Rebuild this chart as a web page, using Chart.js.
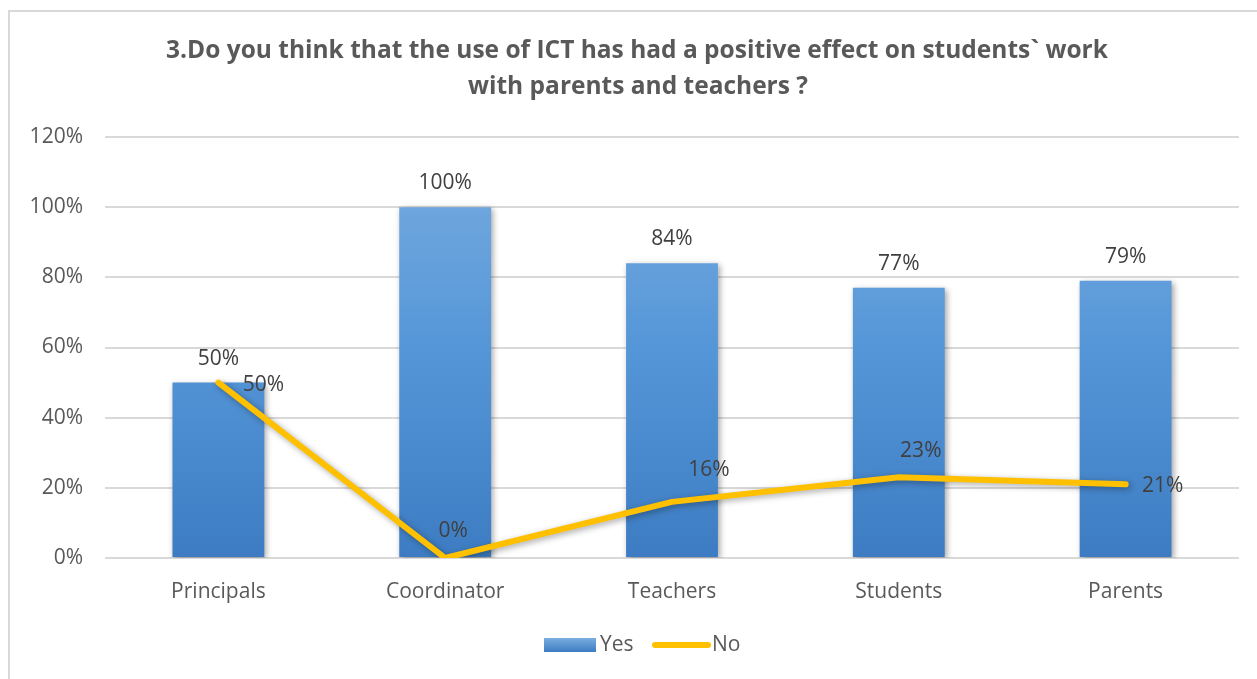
<!DOCTYPE html>
<html>
<head>
<meta charset="utf-8">
<script src="https://cdn.jsdelivr.net/npm/chart.js@4"></script>
<style>
  html, body { margin: 0; padding: 0; background: #ffffff; }
  #frame { position: absolute; left: 8px; top: 10px; width: 1260px; height: 680px; border-left: 2px solid #d9d9d9; border-top: 2px solid #d9d9d9; box-sizing: border-box; }
  #wrap { position: absolute; left: 0; top: 0; width: 1257px; height: 679px; }
</style>
</head>
<body>
<div id="frame"></div>
<div id="wrap"><canvas id="c" width="1257" height="679"></canvas></div>
<script>
const titleLines = ["3.Do you think that the use of ICT has had a positive effect on students` work", "with parents and teachers ?"];
const categories = ["Principals", "Coordinator", "Teachers", "Students", "Parents"];
const yesValues = [50, 100, 84, 77, 79];
const noValues = [50, 0, 16, 23, 21];
const yTicks = [0, 20, 40, 60, 80, 100, 120];
const seriesNames = ["Yes", "No"];

const FONT = "'Open Sans', 'DejaVu Sans', sans-serif";
const noLabelOffsets = [[45, 2], [8, -27], [37, -32], [22, -26], [37, 2]];

const ctx = document.getElementById('c').getContext('2d');

function barGradient(chart) {
  const a = chart.chartArea;
  if (!a) return '#5b9bd5';
  const g = chart.ctx.createLinearGradient(0, a.top, 0, a.bottom);
  g.addColorStop(0, '#7aaee0');
  g.addColorStop(0.5, '#5596d8');
  g.addColorStop(1, '#3d7cc2');
  return g;
}

const shadowPlugin = {
  id: 'shadows',
  beforeDatasetDraw(chart, args) {
    const c = chart.ctx;
    c.save();
    c.shadowColor = 'rgba(0,0,0,0.35)';
    c.shadowBlur = 6;
    c.shadowOffsetX = 2;
    c.shadowOffsetY = 2;
  },
  afterDatasetDraw(chart) { chart.ctx.restore(); }
};

const labelPlugin = {
  id: 'valueLabels',
  afterDatasetsDraw(chart) {
    const c = chart.ctx;
    c.save();
    c.font = "21px " + FONT;
    c.fillStyle = '#404040';
    c.textBaseline = 'middle';
    c.textAlign = 'center';
    const barMeta = chart.getDatasetMeta(0);
    barMeta.data.forEach((el, i) => {
      c.fillText(yesValues[i] + '%', el.x, el.y - 24);
    });
    const lineMeta = chart.getDatasetMeta(1);
    lineMeta.data.forEach((el, i) => {
      const o = noLabelOffsets[i];
      c.fillText(noValues[i] + '%', el.x + o[0], el.y + o[1]);
    });
    c.restore();
  }
};

const titlePlugin = {
  id: 'customTitle',
  afterDraw(chart) {
    const c = chart.ctx;
    c.save();
    c.font = "bold 24.5px " + FONT;
    c.fillStyle = '#595959';
    c.textAlign = 'center';
    c.textBaseline = 'middle';
    c.fillText(titleLines[0], 637, 51);
    c.fillText(titleLines[1], 638, 87);
    c.restore();
  }
};

const legendPlugin = {
  id: 'customLegend',
  afterDraw(chart) {
    const c = chart.ctx;
    c.save();
    const y = 645;
    const g = c.createLinearGradient(0, y - 7, 0, y + 7);
    g.addColorStop(0, '#7aaee0');
    g.addColorStop(1, '#3d7cc2');
    c.fillStyle = g;
    c.fillRect(544, y - 7, 52, 14);
    c.strokeStyle = '#FFC000';
    c.lineWidth = 6;
    c.lineCap = 'round';
    c.beginPath();
    c.moveTo(655, y);
    c.lineTo(708, y);
    c.stroke();
    c.font = "21px " + FONT;
    c.fillStyle = '#595959';
    c.textBaseline = 'middle';
    c.textAlign = 'left';
    c.fillText(seriesNames[0], 600, y);
    c.fillText(seriesNames[1], 712, y);
    c.restore();
  }
};

new Chart(ctx, {
  data: {
    labels: categories,
    datasets: [
      {
        type: 'bar',
        label: seriesNames[0],
        data: yesValues,
        backgroundColor: (context) => barGradient(context.chart),
        barPercentage: 0.405,
        categoryPercentage: 1,
        order: 2
      },
      {
        type: 'line',
        label: seriesNames[1],
        data: noValues,
        borderColor: '#FFC000',
        borderWidth: 6,
        borderCapStyle: 'round',
        borderJoinStyle: 'round',
        pointRadius: 0,
        tension: 0,
        order: 1
      }
    ]
  },
  options: {
    responsive: false,
    animation: false,
    layout: { padding: { top: 137, right: 18, bottom: 0, left: 0 } },
    plugins: {
      legend: { display: false },
      title: { display: false },
      tooltip: { enabled: false }
    },
    scales: {
      x: {
        grid: { display: false, drawTicks: false },
        border: { display: false },
        ticks: { font: { family: FONT, size: 21 }, color: '#595959', padding: 21 },
        afterFit(scale) { scale.height = 121; }
      },
      y: {
        min: 0,
        max: 120,
        afterBuildTicks(scale) { scale.ticks = yTicks.map(v => ({ value: v })); },
        grid: { color: '#d9d9d9', lineWidth: 2, drawTicks: false },
        border: { display: false },
        ticks: {
          font: { family: FONT, size: 21 },
          color: '#595959',
          padding: 22,
          callback: (v) => v + '%'
        },
        afterFit(scale) { scale.width = 105; }
      }
    }
  },
  plugins: [shadowPlugin, labelPlugin, titlePlugin, legendPlugin]
});
</script>
</body>
</html>
